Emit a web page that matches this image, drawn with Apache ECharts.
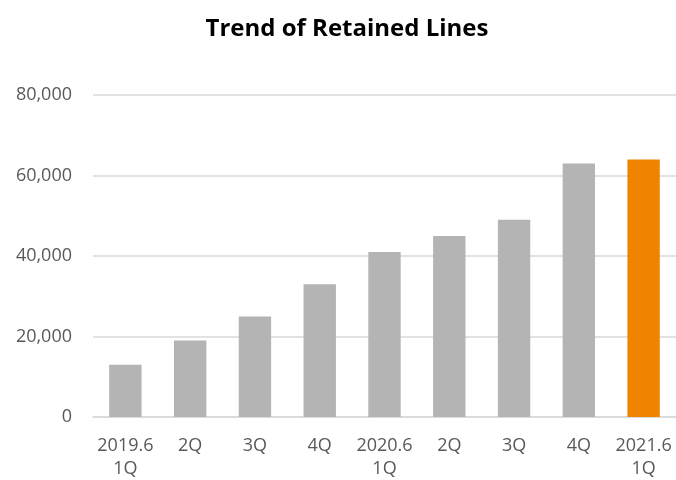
<!DOCTYPE html>
<html>
<head>
<meta charset="utf-8">
<script src="https://cdn.jsdelivr.net/npm/echarts@6/dist/echarts.min.js"></script>
<style>html,body{margin:0;padding:0;background:#fff}#c{width:676px;height:480px}</style>
</head>
<body>
<div id="c"></div>
<script>
const categories = ["2019.6\n1Q", "2Q", "3Q", "4Q", "2020.6\n1Q", "2Q", "3Q", "4Q", "2021.6\n1Q"];
const values = [13000, 19000, 25000, 33000, 41000, 45000, 49000, 63000, 64000];
const highlightIndex = 8;
const yTicks = { min: 0, max: 80000, interval: 20000 };

const chart = echarts.init(document.getElementById('c'), null, { renderer: 'canvas' });
chart.setOption({
  animation: false,
  backgroundColor: '#ffffff',
  title: {
    text: 'Trend of Retained Lines',
    left: 342, top: 12, textAlign: 'center',
    textStyle: { fontFamily: 'Open Sans', fontWeight: 'bold', fontSize: 24, color: '#000000' }
  },
  grid: { left: 93, right: -2, top: 95, bottom: 61, containLabel: false },
  xAxis: {
    type: 'category',
    data: categories,
    axisLine: { show: true, lineStyle: { color: '#d9d9d9', width: 1.5 } },
    axisTick: { show: false },
    axisLabel: { color: '#595959', fontFamily: 'Open Sans', fontSize: 18, lineHeight: 23, margin: 17, interval: 0 }
  },
  yAxis: {
    type: 'value',
    min: yTicks.min, max: yTicks.max, interval: yTicks.interval,
    axisLine: { show: false },
    axisTick: { show: false },
    splitLine: { lineStyle: { color: '#d9d9d9', width: 1.5 } },
    axisLabel: {
      color: '#595959', fontFamily: 'Open Sans', fontSize: 18, margin: 21,
      formatter: v => v.toLocaleString('en-US')
    }
  },
  series: [{
    type: 'bar',
    barWidth: '50%',
    data: values.map((v, i) => ({ value: v, itemStyle: { color: i === highlightIndex ? '#f08300' : '#b4b4b4' } }))
  }]
});
</script>
</body>
</html>
